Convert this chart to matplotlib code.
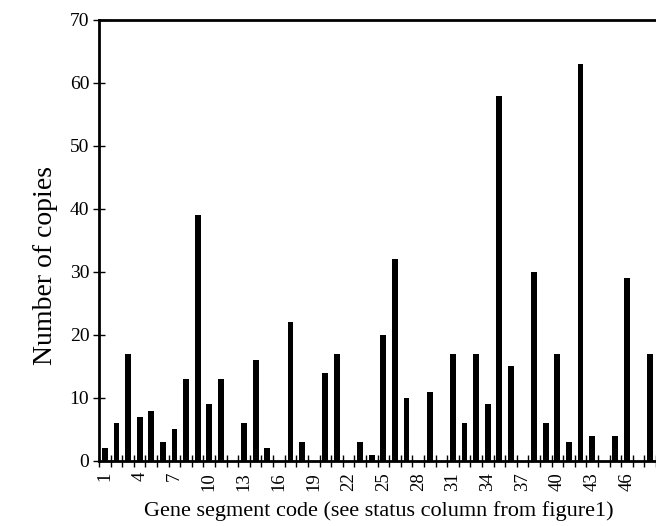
import numpy as np
import matplotlib
matplotlib.use("Agg")
import matplotlib.pyplot as plt

# gene segment codes 1..48 and copy numbers
segments = list(range(1, 49))
copies = [2, 6, 17, 7, 8, 3, 5, 13, 39, 9,
          13, 0, 6, 16, 2, 0, 22, 3, 0, 14,
          17, 0, 3, 1, 20, 32, 10, 0, 11, 0,
          17, 6, 17, 9, 58, 15, 0, 30, 6, 17,
          3, 63, 4, 0, 4, 29, 0, 17]
tick_labels = list(range(1, 47, 3))

plt.rcParams['font.family'] = ['Liberation Serif', 'DejaVu Serif']

fig = plt.figure(figsize=(6.56, 5.26), dpi=100)
ax = fig.add_axes([0.151, 0.1236, 0.849, 0.8384])

ax.bar(segments, copies, width=0.5, color='black')

ax.set_xlim(0.5, 48.5)
ax.set_ylim(0, 70)
ax.set_yticks(range(0, 71, 10))
ax.set_xticks(tick_labels)
ax.set_xticklabels([str(t) for t in tick_labels], rotation=90)
ax.set_xticks(np.arange(0.5, 48.6, 1), minor=True)

ax.tick_params(axis='y', direction='inout', length=8, width=1, labelsize=14, pad=3)
ax.tick_params(axis='x', which='major', length=0, labelsize=13.5, pad=8)
ax.tick_params(axis='x', which='minor', direction='inout', length=8, width=1)

for side in ['left', 'bottom', 'top']:
    ax.spines[side].set_linewidth(2)
ax.spines['right'].set_visible(False)

ax.set_ylabel("Number of copies", fontsize=20)
ax.yaxis.set_label_coords(-0.074, 0.444)
ax.set_xlabel("Gene segment code (see status column from figure1)", fontsize=16)
ax.xaxis.set_label_coords(0.503, -0.092)

fig.savefig("out.png", dpi=100)
